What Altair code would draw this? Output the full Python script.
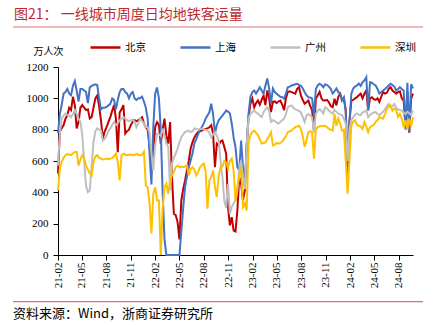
import altair as alt
import pandas as pd

cities = ["北京", "上海", "广州", "深圳"]
colors = ["#C00000", "#4472C4", "#BFBFBF", "#FFC000"]

beijing = [
    520, 786, 810, 829, 870, 893, 940, 925, 1010, 957,
    808, 850, 940, 957, 940, 925, 930, 871, 880, 940,
    1000, 1018, 950, 860, 743, 790, 816, 850, 880, 920,
    957, 870, 656, 910, 930, 957, 775, 790, 800, 830,
    850, 860, 855, 860, 870, 880, 840, 816, 800, 700,
    560, 650, 816, 848, 830, 711, 800, 871, 760, 711,
    848, 497, 263, 255, 210, 100, 348, 420, 476, 540,
    600, 680, 720, 750, 770, 784, 790, 794, 800, 805,
    808, 815, 829, 775, 560, 711, 700, 725, 731, 690,
    647, 306, 189, 241, 156, 150, 284, 497, 455, 350,
    412, 700, 880, 966, 998, 943, 970, 986, 960, 990,
    1018, 957, 1050, 1000, 912, 977, 980, 970, 980, 986,
    960, 925, 1000, 1041, 1045, 1040, 1035, 1030, 1060, 1071,
    1018, 990, 966, 975, 986, 950, 925, 784, 1000, 1018,
    1041, 1000, 986, 986, 990, 975, 950, 943, 998, 955,
    1010, 1030, 990, 1000, 925, 550, 850, 986, 990, 1000,
    1007, 1020, 1030, 1000, 1030, 1050, 925, 1000, 1007, 995,
    990, 1000, 977, 1010, 1041, 1030, 1035, 1060, 1071, 1050,
    1040, 1030, 1040, 1045, 1000, 986, 820, 1040, 780, 1000,
    1030,
]

shanghai = [
    780, 900, 960, 1030, 1040, 1060, 1030, 1020, 1080, 1110,
    1050, 980, 1060, 1060, 1050, 1040, 970, 1070, 1080, 1085,
    1090, 1085, 1000, 930, 940, 940, 945, 955, 965, 1000,
    990, 930, 990, 1040, 1060, 1060, 1040, 1030, 1000, 1030,
    1040, 1000, 990, 1000, 1000, 1010, 980, 940, 870, 650,
    450, 816, 1030, 1069, 1000, 800, 400, 100, 0, 0,
    0, 0, 0, 0, 0, 0, 150, 300, 433, 500,
    560, 603, 650, 712, 740, 770, 800, 816, 840, 870,
    890, 911, 966, 900, 775, 830, 860, 875, 890, 905,
    922, 915, 903, 839, 750, 688, 560, 539, 731, 560,
    430, 700, 903, 1010, 1040, 1050, 1030, 1050, 1071, 1050,
    1030, 1080, 1127, 1063, 966, 1063, 1040, 1030, 1020, 1010,
    1007, 998, 1030, 1071, 1075, 1082, 1085, 1090, 1093, 1085,
    1080, 1063, 1040, 1020, 1007, 1005, 1000, 890, 1060, 1082,
    1093, 1085, 1071, 1090, 1085, 1075, 1060, 1030, 1045, 1063,
    1040, 1030, 986, 1007, 922, 500, 850, 1030, 1063, 1075,
    1082, 1095, 1080, 1103, 1114, 1135, 922, 1103, 1100, 1090,
    1082, 1060, 1030, 1040, 1050, 1060, 1071, 1082, 1093, 1085,
    1075, 1050, 1060, 1071, 1060, 1050, 800, 1100, 780, 1090,
    1063,
]

guangzhou = [
    571, 780, 871, 890, 903, 895, 890, 880, 900, 925,
    900, 870, 850, 765, 600, 440, 402, 412, 571, 720,
    790, 808, 800, 796, 731, 740, 765, 790, 808, 830,
    850, 830, 840, 860, 870, 880, 870, 860, 855, 860,
    865, 850, 816, 840, 871, 855, 839, 816, 816, 780,
    647, 540, 700, 775, 770, 760, 808, 760, 711, 690,
    412, 584, 620, 647, 680, 720, 752, 770, 784, 790,
    794, 784, 790, 808, 805, 800, 805, 808, 800, 800,
    795, 780, 752, 770, 784, 760, 731, 600, 500, 348,
    300, 455, 263, 306, 330, 348, 412, 550, 603, 500,
    420, 700, 871, 900, 912, 922, 910, 903, 890, 880,
    910, 930, 943, 920, 850, 860, 855, 845, 839, 850,
    860, 870, 900, 943, 950, 955, 940, 930, 925, 920,
    910, 880, 850, 890, 900, 890, 880, 784, 900, 922,
    930, 920, 903, 943, 935, 922, 910, 903, 925, 915,
    903, 898, 893, 870, 839, 600, 800, 860, 880, 895,
    903, 895, 893, 910, 915, 922, 880, 895, 903, 910,
    912, 900, 893, 903, 915, 930, 950, 964, 945, 950,
    964, 940, 930, 925, 922, 910, 900, 915, 905, 893,
    922,
]

shenzhen = [
    412, 555, 594, 620, 637, 645, 640, 637, 650, 658,
    658, 571, 610, 637, 615, 571, 545, 520, 508, 594,
    630, 637, 620, 615, 610, 612, 615, 612, 615, 618,
    630, 647, 594, 476, 637, 647, 640, 637, 640, 642,
    637, 640, 645, 640, 637, 640, 658, 444, 430, 329,
    137, 391, 433, 348, 348, 0, 300, 430, 455, 391,
    470, 510, 529, 560, 571, 560, 565, 560, 565, 571,
    508, 550, 560, 545, 508, 530, 560, 575, 584, 540,
    296, 476, 497, 540, 433, 370, 508, 560, 565, 600,
    590, 552, 600, 615, 540, 340, 433, 500, 560, 306,
    330, 284, 720, 765, 786, 794, 780, 765, 740, 711,
    715, 718, 740, 760, 784, 700, 705, 715, 711, 715,
    725, 741, 760, 784, 790, 794, 805, 816, 820, 825,
    805, 760, 690, 731, 784, 790, 780, 615, 800, 816,
    820, 825, 822, 825, 815, 805, 800, 794, 900, 825,
    871, 839, 794, 800, 603, 391, 603, 825, 850, 860,
    830, 825, 820, 805, 850, 820, 784, 816, 825, 830,
    850, 860, 880, 875, 870, 900, 933, 945, 955, 922,
    935, 925, 881, 900, 870, 816, 860, 800, 870, 820,
    880,
]

tick_labels = ["21-02", "21-05", "21-08", "21-11", "22-02", "22-05", "22-08",
               "22-11", "23-02", "23-05", "23-08", "23-11", "24-02", "24-05", "24-08"]
y_ticks = [0, 200, 400, 600, 800, 1000, 1200]

title_text = "图21： 一线城市周度日均地铁客运量"
source_text = "资料来源：Wind，浙商证券研究所"
unit_text = "万人次"

dates = pd.date_range("2021-02-01", periods=len(beijing), freq="7D")
rows = []
for city, vals in zip(cities, [beijing, shanghai, guangzhou, shenzhen]):
    for d, v in zip(dates, vals):
        rows.append({"date": d.strftime("%Y-%m-%d"), "value": v, "city": city})
df = pd.DataFrame(rows)

tick_dates = [alt.DateTime(year=2000 + int(t[:2]), month=int(t[3:]), date=1) for t in tick_labels]
last = dates[-1]
x_domain = [alt.DateTime(year=2021, month=2, date=1),
            alt.DateTime(year=int(last.year), month=int(last.month), date=int(last.day))]

CJK = "Noto Sans CJK SC"
SERIF = "Liberation Serif"

lines = alt.Chart(df).mark_line(strokeWidth=2).encode(
    x=alt.X("date:T", scale=alt.Scale(domain=x_domain, nice=False),
            axis=alt.Axis(values=tick_dates, format="%y-%m", labelAngle=270,
                          title=None, grid=False, labelFont=SERIF, labelFontSize=11,
                          labelColor="#000", tickColor="#000", domainColor="#000",
                          tickSize=5, labelPadding=2, labelFlush=False, labelOverlap=False)),
    y=alt.Y("value:Q", scale=alt.Scale(domain=[0, 1200], nice=False),
            axis=alt.Axis(values=y_ticks, format="d", title=unit_text, titleAngle=0,
                          titleX=-10, titleY=-16,
                          titleAlign="center", titleBaseline="middle", titleFont=CJK,
                          titleFontSize=10, titleFontWeight="normal", titleColor="#000",
                          grid=False, labelFont=SERIF, labelFontSize=11, labelColor="#000",
                          tickColor="#000", domainColor="#000", tickSize=5, labelPadding=5)),
    color=alt.Color("city:N", sort=cities,
                    scale=alt.Scale(domain=cities, range=colors),
                    legend=alt.Legend(orient="none", legendX=31, legendY=-36,
                                      direction="horizontal", title=None, padding=0,
                                      symbolType="stroke", symbolSize=900,
                                      symbolStrokeWidth=2.5, labelFont=CJK,
                                      labelFontSize=10.5, labelColor="#000",
                                      labelOffset=3, columnPadding=29)),
)

one = pd.DataFrame({"k": [0]})

title_mark = alt.Chart(one).mark_text(
    text=title_text, align="left", baseline="middle", font=CJK,
    fontSize=14, color="#C0282D").encode(x=alt.value(-44), y=alt.value(-52.5))

rule_top = alt.Chart(one).mark_rule(color="#E07070", strokeWidth=1.2).encode(
    x=alt.value(-45), x2=alt.value(365), y=alt.value(-40))

rule_bottom = alt.Chart(one).mark_rule(color="#E07070", strokeWidth=1.2).encode(
    x=alt.value(-45), x2=alt.value(365), y=alt.value(234.7))

source_mark = alt.Chart(one).mark_text(
    text=source_text, align="left", baseline="middle", font=CJK,
    fontSize=13, color="#000").encode(x=alt.value(-45), y=alt.value(247))

chart = alt.layer(lines, title_mark, rule_top, rule_bottom, source_mark).properties(
    width=355, height=188,
    autosize=alt.AutoSizeParams(type="none"),
    padding={"left": 58, "top": 67, "right": 24, "bottom": 70},
    background="white",
).configure_view(stroke=None)

chart.save("out.html", embed_options={"renderer": "svg", "actions": False})
